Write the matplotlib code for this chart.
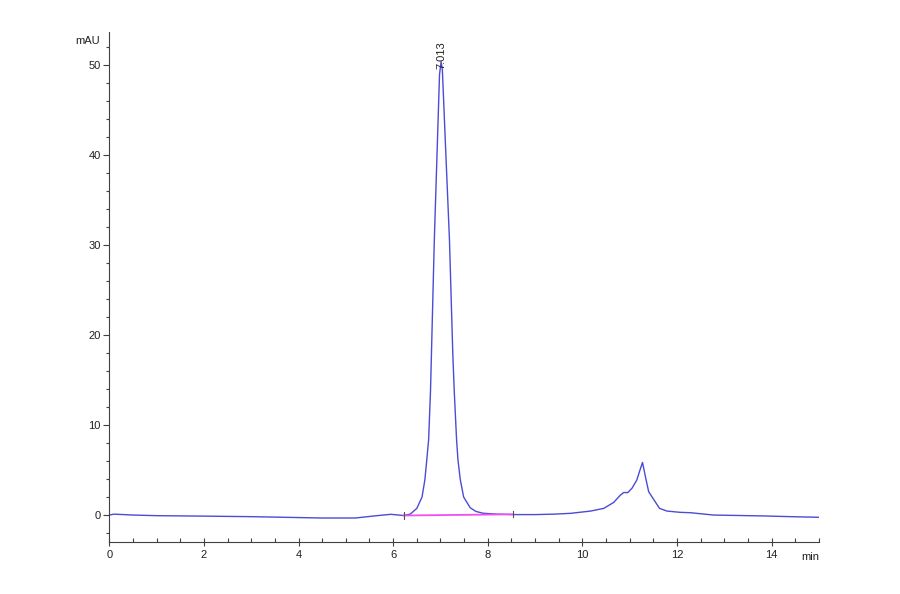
import matplotlib
matplotlib.use("Agg")
import matplotlib.pyplot as plt
from matplotlib.ticker import MultipleLocator

plt.rcParams['font.family'] = ['Liberation Sans', 'DejaVu Sans']

# chromatogram (min, mAU)
time = [0.0, 0.1, 0.5, 1.0, 2.0, 3.0, 4.0, 4.5, 5.2, 5.6, 5.95, 6.22,
        6.36, 6.50, 6.61, 6.67, 6.71, 6.75, 6.79, 6.87, 6.93, 6.98,
        7.013, 7.04, 7.11, 7.19, 7.26, 7.29, 7.34, 7.37, 7.42, 7.49,
        7.63, 7.75, 7.90, 8.20, 8.54, 9.0, 9.4, 9.75, 10.17, 10.45, 10.66,
        10.80, 10.87, 10.96, 11.05, 11.15, 11.21, 11.27, 11.33, 11.40,
        11.51, 11.63, 11.79, 12.07, 12.28, 12.77, 13.3, 13.83, 14.4, 15.0]
signal = [0.0, 0.1, 0.0, -0.07, -0.12, -0.18, -0.28, -0.33, -0.33, -0.1,
          0.08, -0.05, 0.1, 0.74, 2.0, 3.9, 6.1, 8.4, 13.9, 30.6, 40.6,
          49.0, 50.4, 49.5, 40.6, 30.6, 18.0, 13.9, 8.4, 6.1, 3.9, 2.0,
          0.8, 0.4, 0.2, 0.1, 0.05, 0.05, 0.1, 0.19, 0.44, 0.74, 1.4, 2.2,
          2.5, 2.5, 3.0, 3.9, 4.9, 5.85, 4.3, 2.6, 1.7, 0.74, 0.44, 0.3,
          0.26, 0.0, -0.05, -0.1, -0.18, -0.25]

# integration baseline of the main peak
base_t = [6.22, 8.54]
base_y = [-0.05, 0.08]

peak_rt = 7.013
peak_h = 50.4

fig = plt.figure(figsize=(9, 5.94), dpi=100)
ax = fig.add_axes([0.1214, 0.0875, 0.7886, 0.8585])

ax.plot(time, signal, color='#4b4bd6', lw=1.0)
ax.plot(base_t, base_y, color='#f050f0', lw=1.3)
for t, y in zip(base_t, base_y):
    ax.plot([t, t], [y - 0.35, y + 0.35], color='#505050', lw=0.8)

ax.text(peak_rt, peak_h - 0.8, f"{peak_rt:.3f}", rotation=90, ha='center',
        va='bottom', fontsize=8, color='#202020')

ax.set_xlim(0, 15)
ax.set_ylim(-3, 53.7)
ax.xaxis.set_major_locator(MultipleLocator(2))
ax.xaxis.set_minor_locator(MultipleLocator(0.5))
ax.yaxis.set_major_locator(MultipleLocator(10))
ax.yaxis.set_minor_locator(MultipleLocator(2))

for s in ['top', 'right']:
    ax.spines[s].set_visible(False)
for s in ['left', 'bottom']:
    ax.spines[s].set_color('#404040')
    ax.spines[s].set_linewidth(0.8)

ax.tick_params(axis='x', which='major', direction='inout', length=6,
               width=0.8, color='#404040', labelsize=8, labelcolor='#202020', pad=3)
ax.tick_params(axis='x', which='minor', direction='in', length=3,
               width=0.8, color='#404040')
ax.tick_params(axis='y', which='major', direction='out', length=4,
               width=0.8, color='#404040', labelsize=8, labelcolor='#202020', pad=2)
ax.tick_params(axis='y', which='minor', direction='out', length=2,
               width=0.8, color='#404040')

fig.text(88 / 900, 1 - 41 / 594, "mAU", ha='center', va='center',
         fontsize=8, color='#202020')
fig.text(810 / 900, 1 - 557 / 594, "min", ha='center', va='center',
         fontsize=8, color='#202020')

fig.savefig("out.png", dpi=100, facecolor='white')
